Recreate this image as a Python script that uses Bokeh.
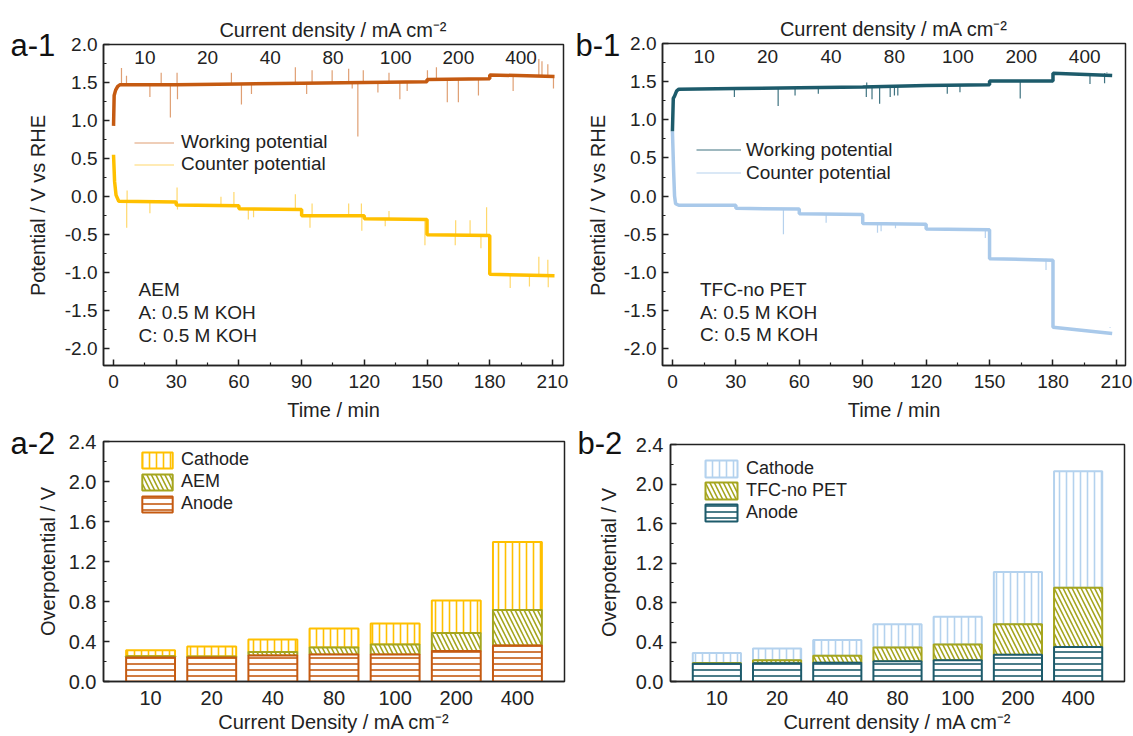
import numpy as np
from bokeh.plotting import figure
from bokeh.layouts import column, row
from bokeh.models import (FixedTicker, NumeralTickFormatter, Legend, LegendItem,
                          Label, Range1d)
from bokeh.core.properties import value
from bokeh.embed import file_html
from bokeh.resources import INLINE

FONT = "Liberation Sans"

# ---------------- data ----------------
seg_t0 = [0, 30, 60, 90, 120, 150, 180]
t_end_a = 211
t_end_b = 208
current_density = ["10", "20", "40", "80", "100", "200", "400"]

# a-1 (AEM) working potential
a_work_start_t = [0, 0.3, 1.0, 2.0, 3.0]
a_work_start_v = [0.93, 1.33, 1.40, 1.45, 1.47]
a_work_lvl_s = [1.47, 1.47, 1.48, 1.49, 1.50, 1.54, 1.60]
a_work_lvl_e = [1.47, 1.48, 1.49, 1.50, 1.51, 1.55, 1.58]
a_work_spk_t = [3.8, 6.2, 17.4, 22.8, 27.2, 30.4, 30.6, 56.4, 61.2, 66.0, 87.0, 92.4, 95.0,
                104.6, 112.5, 114.2, 116.9, 119.5, 126.5, 131.8, 137.0, 140.5, 150.2, 154.5,
                159.7, 165.0, 174.6, 186.0, 191.2, 203.5, 205.0, 207.8, 210.5]
a_work_spk_v = [1.69, 1.59, 1.31, 1.63, 1.04, 1.63, 1.28, 1.63, 1.21, 1.35, 1.70, 1.35, 1.66,
                1.66, 1.68, 1.42, 0.79, 1.66, 1.37, 1.63, 1.28, 1.39, 1.66, 1.70,
                1.24, 1.24, 1.33, 1.61, 1.39, 1.81, 1.78, 1.74, 1.42]

# a-1 counter potential
a_cnt_start_t = [0, 0.5, 1.2, 2.5]
a_cnt_start_v = [0.55, 0.20, 0.02, -0.06]
a_cnt_lvl_s = [-0.06, -0.11, -0.16, -0.25, -0.29, -0.50, -1.02]
a_cnt_lvl_e = [-0.07, -0.12, -0.17, -0.25, -0.30, -0.51, -1.04]
a_cnt_spk_t = [6.3, 6.5, 17.4, 30.4, 30.6, 51.4, 57.6, 64.5, 67.0, 87.0, 94.0, 95.0, 112.5,
               118.6, 118.8, 130.0, 131.8, 149.0, 163.5, 163.7, 170.6, 175.8, 178.5, 189.8,
               199.0, 203.5, 207.8, 208.0]
a_cnt_spk_v = [-0.41, 0.08, -0.22, 0.12, -0.17, 0.00, 0.06, -0.30, -0.27, 0.03, -0.41, -0.09,
               -0.09, -0.09, -0.45, -0.39, -0.19, -0.64, -0.64, -0.31, -0.31, -0.68, -0.14,
               -1.20, -1.18, -0.79, -0.83, -1.19]

# b-1 (TFC-no PET) working potential
b_work_start_t = [0, 0.4, 1.0, 2.0, 3.0]
b_work_start_v = [0.85, 1.28, 1.31, 1.38, 1.40]
b_work_lvl_s = [1.40, 1.41, 1.42, 1.43, 1.45, 1.51, 1.61]
b_work_lvl_e = [1.41, 1.42, 1.43, 1.45, 1.46, 1.51, 1.58]
b_work_spk_t = [29.3, 50.0, 58.0, 69.0, 91.7, 91.9, 94.4, 98.0, 103.0, 105.0, 106.6, 130.0,
                136.0, 164.5, 197.5, 204.4, 205.5]
b_work_spk_v = [1.30, 1.18, 1.32, 1.34, 1.30, 1.49, 1.27, 1.21, 1.30, 1.32, 1.32, 1.34,
                1.36, 1.28, 1.47, 1.48, 1.62]

# b-1 counter potential
b_cnt_start_t = [0, 0.6, 1.0, 1.5, 3.0]
b_cnt_start_v = [0.85, 0.30, 0.00, -0.10, -0.12]
b_cnt_lvl_s = [-0.12, -0.16, -0.23, -0.36, -0.43, -0.82, -1.72]
b_cnt_lvl_e = [-0.12, -0.17, -0.24, -0.37, -0.44, -0.84, -1.80]
b_cnt_spk_t = [52.5, 72.7, 97.0, 98.7, 105.5, 148.0, 176.7, 207.0]
b_cnt_spk_v = [-0.50, -0.35, -0.48, -0.46, -0.42, -0.55, -0.97, -1.73]

# a-2 overpotentials (AEM)
a_anode = [0.24, 0.24, 0.26, 0.27, 0.27, 0.305, 0.36]
a_mem = [0.012, 0.01, 0.035, 0.07, 0.10, 0.18, 0.355]
a_cath = [0.06, 0.10, 0.125, 0.19, 0.21, 0.325, 0.68]

# b-2 overpotentials (TFC-no PET)
b_anode = [0.18, 0.185, 0.19, 0.205, 0.215, 0.27, 0.35]
b_mem = [0.008, 0.03, 0.07, 0.14, 0.16, 0.31, 0.60]
b_cath = [0.10, 0.12, 0.16, 0.235, 0.28, 0.53, 1.18]

# ---------------- colours ----------------
A_WORK = "#C55A11"
A_WORK_LIGHT = "#D98E5A"
A_CNT = "#FFC000"
A_CNT_LIGHT = "#FFD152"
B_WORK = "#1D5B6B"
B_CNT = "#A9C9EA"
OLIVE = "#A5A51E"
B_CATH = "#B4D2EE"
TXT = "#222222"


def style_axes(p, fs="19px", afs="20px"):
    for ax in [p.xaxis[0], p.yaxis[0]]:
        ax.axis_line_width = 1.5
        ax.axis_line_color = TXT
        ax.major_tick_in = 6
        ax.major_tick_out = 0
        ax.minor_tick_in = 3
        ax.minor_tick_out = 0
        ax.major_tick_line_width = 1.5
        ax.minor_tick_line_width = 1.2
        ax.major_tick_line_color = TXT
        ax.minor_tick_line_color = TXT
        ax.major_label_text_font = FONT
        ax.major_label_text_font_size = fs
        ax.major_label_text_color = TXT
        ax.axis_label_text_font = FONT
        ax.axis_label_text_font_size = afs
        ax.axis_label_text_font_style = "normal"
        ax.axis_label_text_color = TXT
    p.xgrid.visible = False
    p.ygrid.visible = False
    p.outline_line_color = TXT
    p.outline_line_width = 1.5
    p.outline_line_alpha = 1.0


def side_strip(width, height, panel_text, px, py, ylabel, lx, ly):
    """Narrow strip left of a panel holding the panel tag and the y-axis title."""
    s = figure(width=width, height=height, output_backend="svg", toolbar_location=None,
               x_range=Range1d(0, width), y_range=Range1d(height, 0),
               x_axis_location=None, y_axis_location=None, min_border=0,
               outline_line_color=None, background_fill_color="white",
               border_fill_color="white", frame_align=False)
    s.xgrid.visible = False
    s.ygrid.visible = False
    s.text(x=[px], y=[py], text=[panel_text], text_font=value(FONT),
           text_font_size="31px", text_color="#111111", text_align="left",
           text_baseline="middle")
    s.text(x=[lx], y=[ly], text=[ylabel], text_font=value(FONT), text_font_size="20px",
           text_color=TXT, text_align="center", text_baseline="middle", angle=np.pi / 2)
    return s


def build_line(st_t, st_v, lv_s, lv_e, t_end):
    xs = list(st_t)
    ys = list(st_v)
    for i in range(len(seg_t0)):
        t0 = seg_t0[i] if i > 0 else st_t[-1]
        t1 = seg_t0[i + 1] if i < len(seg_t0) - 1 else t_end
        xs += [t0, t1]
        ys += [lv_s[i], lv_e[i]]
    return xs, ys


def spike_base(ts, lv_s):
    idx = np.searchsorted(seg_t0, ts, side="right") - 1
    return [lv_s[i] for i in idx]


def time_panel(work, cnt, colors, t_end, mem_text, frame, size, legend_cfg):
    (wst_t, wst_v, wls, wle, wsp_t, wsp_v) = work
    (cst_t, cst_v, cls_, cle, csp_t, csp_v) = cnt
    wcol, wlight, ccol, clight = colors
    width, height, mbl, mbr, mbt, mbb = size
    p = figure(width=width, height=height, output_backend="svg", toolbar_location=None,
               x_range=Range1d(*frame[0]), y_range=Range1d(*frame[1]),
               min_border_left=mbl, min_border_right=mbr, min_border_top=mbt,
               min_border_bottom=mbb, background_fill_color="white",
               border_fill_color="white", frame_align=False)
    p.title.text = "Current density / mA cm\u207b\u00b2"
    p.title.align = "center"
    p.title.text_font = FONT
    p.title.text_font_size = "20px"
    p.title.text_font_style = "normal"
    p.title.text_color = TXT
    p.title.standoff = 7

    # counter
    cx, cy = build_line(cst_t, cst_v, cls_, cle, t_end)
    cspk = p.segment(x0=csp_t, y0=spike_base(csp_t, cls_), x1=csp_t, y1=csp_v,
                     line_color=clight, line_width=1.2, line_alpha=0.85)
    p.line(cx, cy, line_color=ccol, line_width=3.5)
    # working
    wx, wy = build_line(wst_t, wst_v, wls, wle, t_end)
    wspk = p.segment(x0=wsp_t, y0=spike_base(wsp_t, wls), x1=wsp_t, y1=wsp_v,
                     line_color=wlight, line_width=1.2, line_alpha=0.85)
    p.line(wx, wy, line_color=wcol, line_width=3.5)

    # top category labels (current density of each 30-min step)
    mids = [t + 15 for t in seg_t0]
    p.text(x=mids, y=[1.83] * len(mids), text=current_density, text_font=value(FONT),
           text_font_size="19px", text_color=TXT, text_align="center",
           text_baseline="middle")

    p.xaxis.axis_label = "Time / min"
    p.xaxis.ticker = FixedTicker(ticks=[0, 30, 60, 90, 120, 150, 180, 210],
                                 minor_ticks=[15, 45, 75, 105, 135, 165, 195])
    p.yaxis.ticker = FixedTicker(ticks=[-2.0, -1.5, -1.0, -0.5, 0.0, 0.5, 1.0, 1.5, 2.0],
                                 minor_ticks=[-1.75, -1.25, -0.75, -0.25, 0.25, 0.75, 1.25, 1.75])
    p.yaxis.formatter = NumeralTickFormatter(format="0.0")
    style_axes(p, fs="19px", afs="20px")
    p.xaxis.major_label_standoff = 9
    p.yaxis.major_label_standoff = 6
    p.xaxis.axis_label_standoff = 8

    lx, ly, gw, lh, stand = legend_cfg
    leg = Legend(items=[LegendItem(label="Working potential", renderers=[wspk]),
                        LegendItem(label="Counter potential", renderers=[cspk])],
                 location=(lx, ly), glyph_width=gw, glyph_height=lh, label_height=lh,
                 label_standoff=stand, spacing=0, padding=0, margin=0,
                 border_line_color=None, background_fill_alpha=0,
                 label_text_font=FONT, label_text_font_size="19px",
                 label_text_color=TXT)
    p.add_layout(leg)

    for i, txt in enumerate(mem_text[1]):
        p.add_layout(Label(x=mem_text[0], y=[-1.22, -1.52, -1.82][i], text=txt,
                           text_font=FONT, text_font_size="19px", text_color=TXT,
                           text_baseline="middle"))
    return p


def bar_panel(anode, mem, cath, colors, names, size, xlabel, legend_loc):
    acol, mcol, ccol = colors
    width, height, mbl, mbr, mbt, mbb = size
    xs = list(range(1, len(current_density) + 1))
    p = figure(width=width, height=height, output_backend="svg", toolbar_location=None,
               x_range=Range1d(0.23, 7.77), y_range=Range1d(0, 2.4),
               min_border_left=mbl, min_border_right=mbr, min_border_top=mbt,
               min_border_bottom=mbb, background_fill_color="white",
               border_fill_color="white", frame_align=False)
    top1 = np.array(anode)
    top2 = top1 + np.array(mem)
    top3 = top2 + np.array(cath)
    common = dict(width=0.8, fill_color="white", line_width=2)
    r3 = p.vbar(x=xs, bottom=top2, top=top3, line_color=ccol, hatch_pattern="vertical_line",
                hatch_color=ccol, hatch_scale=7, hatch_weight=1.6, **common)
    r2 = p.vbar(x=xs, bottom=top1, top=top2, line_color=mcol, hatch_pattern="left_diagonal_line",
                hatch_color=mcol, hatch_scale=9, hatch_weight=1.6, **common)
    r1 = p.vbar(x=xs, bottom=0, top=top1, line_color=acol, hatch_pattern="horizontal_line",
                hatch_color=acol, hatch_scale=6, hatch_weight=1.6, **common)
    p.xaxis.ticker = FixedTicker(ticks=xs)
    p.xaxis.major_label_overrides = {x: c for x, c in zip(xs, current_density)}
    p.yaxis.ticker = FixedTicker(ticks=[0.0, 0.4, 0.8, 1.2, 1.6, 2.0, 2.4],
                                 minor_ticks=[0.2, 0.6, 1.0, 1.4, 1.8, 2.2])
    p.yaxis.formatter = NumeralTickFormatter(format="0.0")
    p.xaxis.axis_label = xlabel
    style_axes(p, fs="20px", afs="20px")
    p.xaxis.major_tick_line_color = None
    p.xaxis.minor_tick_line_color = None
    p.xaxis.major_label_standoff = 9
    p.xaxis.axis_label_standoff = 3
    p.yaxis.major_label_standoff = 7
    gw, gh, lx, ly = legend_loc
    leg = Legend(items=[LegendItem(label=names[0], renderers=[r3]),
                        LegendItem(label=names[1], renderers=[r2]),
                        LegendItem(label=names[2], renderers=[r1])],
                 location=(lx, ly), glyph_width=gw, glyph_height=gh, label_height=gh,
                 label_standoff=5, spacing=1, padding=0, margin=0,
                 border_line_color=None, background_fill_alpha=0,
                 label_text_font=FONT, label_text_font_size="18px",
                 label_text_color=TXT)
    p.add_layout(leg)
    return p


TOP_H = 426
BOT_H = 310

sa1 = side_strip(60, TOP_H, "a-1", 10, 45, "Potential / V vs RHE", 37, 205)
a1 = time_panel((a_work_start_t, a_work_start_v, a_work_lvl_s, a_work_lvl_e, a_work_spk_t, a_work_spk_v),
                (a_cnt_start_t, a_cnt_start_v, a_cnt_lvl_s, a_cnt_lvl_e, a_cnt_spk_t, a_cnt_spk_v),
                (A_WORK, A_WORK_LIGHT, A_CNT, A_CNT_LIGHT), t_end_a,
                (12, ["AEM", "A: 0.5 M KOH", "C: 0.5 M KOH"]),
                ((-4.8, 215.3), (-2.22, 2.0)),
                (510, TOP_H, 43, 7, 44, 61),
                (31, 190, 40, 21, 7))
sb1 = side_strip(50, TOP_H, "b-1", 5, 45, "Potential / V vs RHE", 27, 205)
b1 = time_panel((b_work_start_t, b_work_start_v, b_work_lvl_s, b_work_lvl_e, b_work_spk_t, b_work_spk_v),
                (b_cnt_start_t, b_cnt_start_v, b_cnt_lvl_s, b_cnt_lvl_e, b_cnt_spk_t, b_cnt_spk_v),
                (B_WORK, B_WORK, B_CNT, B_CNT), t_end_b,
                (13, ["TFC-no PET", "A: 0.5 M KOH", "C: 0.5 M KOH"]),
                ((-4.7, 214.3), (-2.22, 2.0)),
                (513, TOP_H, 41, 8, 43, 61),
                (34, 181, 45, 23, 5))
sa2 = side_strip(60, BOT_H, "a-2", 10, 17, "Overpotential / V", 47, 135)
a2 = bar_panel(a_anode, a_mem, a_cath, (A_WORK, OLIVE, A_CNT), ["Cathode", "AEM", "Anode"],
               (510, BOT_H, 43, 6, 15, 55), "Current Density / mA cm\u207b\u00b2",
               (38, 20, 35, 167))
sb2 = side_strip(58, BOT_H, "b-2", 7, 17, "Overpotential / V", 38, 136)
b2 = bar_panel(b_anode, b_mem, b_cath, (B_WORK, OLIVE, B_CATH), ["Cathode", "TFC-no PET", "Anode"],
               (505, BOT_H, 42, 9, 18, 55), "Current density / mA cm\u207b\u00b2",
               (40, 21, 31, 158))

layout = column(row(sa1, a1, sb1, b1), row(sa2, a2, sb2, b2))
open("out.html", "w").write(file_html(layout, INLINE))
